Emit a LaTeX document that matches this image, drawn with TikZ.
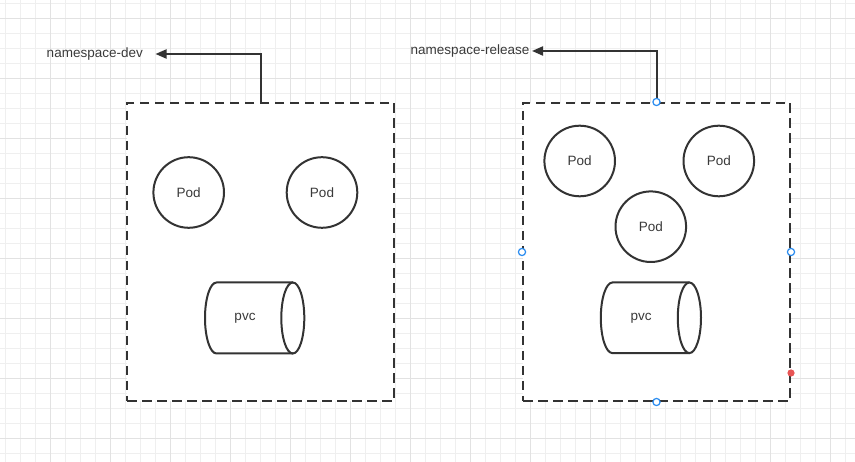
\documentclass[tikz,border=0pt]{standalone}
\usepackage{fontspec}
\setmainfont{Liberation Sans}
\usetikzlibrary{arrows.meta}
\definecolor{ink}{HTML}{333333}
\definecolor{txt}{HTML}{3A3A3A}
\definecolor{gridlight}{HTML}{EFEFEF}
\definecolor{griddark}{HTML}{E2E2E2}
\definecolor{handle}{HTML}{2A8CF0}
\definecolor{hot}{HTML}{E85555}
\tikzset{
  lbl/.style={inner sep=0pt, text=txt, font=\fontsize{13.5}{16}\selectfont},
  nsbox/.style={draw=ink, line width=2pt, dash pattern=on 9.5pt off 5.5pt, inner sep=0pt},
  pod/.style={circle, draw=ink, line width=2pt, minimum size=70.6pt, inner sep=0pt, text=txt, font=\fontsize{13.5}{16}\selectfont},
  link/.style={draw=ink, line width=2pt, -{Triangle[length=11pt,width=9pt]}},
  cyl/.style={draw=ink, line width=2pt},
  hdl/.style={draw=handle, fill=white, line width=1.2pt},
}
\begin{document}
\begin{tikzpicture}[x=1pt,y=-1pt]
\fill[white] (0,0) rectangle (855,462);
\useasboundingbox (0,0) rectangle (855,462);
% grid
\foreach \x in {5,20,...,850} \draw[gridlight, line width=1pt] (\x,0) -- (\x,462);
\foreach \y in {4,19,...,460} \draw[gridlight, line width=1pt] (0,\y) -- (855,\y);
\foreach \x in {50,110,...,830} \draw[griddark, line width=1pt] (\x,0) -- (\x,462);
\foreach \y in {19,79,...,439} \draw[griddark, line width=1pt] (0,\y) -- (855,\y);

% left namespace
\node[nsbox, fill=white, minimum width=267pt, minimum height=298pt] (dev) at (260.5,252) {};
\node[lbl, anchor=east] (devlbl) at (143,54) {namespace-dev};
\draw[link] (dev.north) |- ([xshift=12.5pt]devlbl.east);
\node[pod] (pod1) at (188.7,192.5) {Pod};
\node[pod] (pod2) at (322,192.5) {Pod};
\draw[cyl] (292.8,282.5) -- (216.5,282.5) arc[start angle=270,end angle=90,x radius=11.5,y radius=35.5] -- (292.8,353.5);
\draw[cyl] (292.8,318) ellipse[x radius=11.5,y radius=35.5];
\node[lbl] (pvc1) at (245,318) {pvc};

% right namespace
\node[nsbox, fill=white, minimum width=267pt, minimum height=298pt] (rel) at (656.5,252) {};
\node[lbl, anchor=east] (rellbl) at (529.5,51) {namespace-release};
\draw[link] (rel.north) |- ([xshift=2.5pt]rellbl.east);
\node[pod] (pod3) at (579.7,161) {Pod};
\node[pod] (pod4) at (718.8,161) {Pod};
\node[pod] (pod5) at (650.8,226.7) {Pod};
\draw[cyl] (689.4,282.5) -- (612.4,282.5) arc[start angle=270,end angle=90,x radius=11.6,y radius=35.3] -- (689.4,353.1);
\draw[cyl] (689.4,317.8) ellipse[x radius=11.6,y radius=35.3];
\node[lbl] (pvc2) at (641,318) {pvc};

% selection handles
\foreach \a in {north,south,east,west} \draw[hdl] (rel.\a) circle[radius=3.6pt];
\fill[hot] ([yshift=29pt]rel.south east) circle[radius=3.6pt];
\end{tikzpicture}
\end{document}
